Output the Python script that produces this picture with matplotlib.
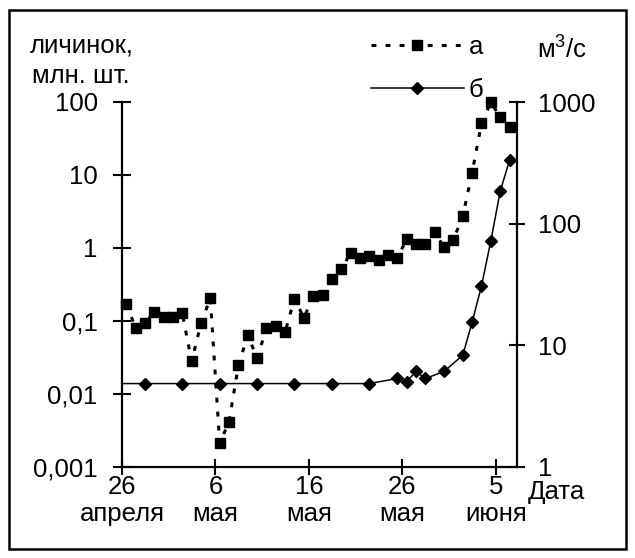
import numpy as np
import matplotlib
matplotlib.use("Agg")
import matplotlib.pyplot as plt
from matplotlib.ticker import NullLocator, FixedLocator, FixedFormatter
from matplotlib.patches import Rectangle

plt.rcParams['font.family'] = ['Liberation Sans', 'DejaVu Sans']
plt.rcParams['mathtext.fontset'] = 'custom'
plt.rcParams['mathtext.rm'] = 'Liberation Sans'
plt.rcParams['mathtext.it'] = 'Liberation Sans'

# ---- data ----
# days counted from 26 April
days_a = np.arange(0, 42)
larvae = [0.171, 0.081, 0.093, 0.133, 0.112, 0.112, 0.127, 0.028, 0.093, 0.205,
          0.0021, 0.0042, 0.0246, 0.064, 0.031, 0.079, 0.085, 0.071, 0.203, 0.11,
          0.217, 0.226, 0.375, 0.514, 0.846, 0.72, 0.784, 0.684, 0.801, 0.72,
          1.33, 1.13, 1.13, 1.64, 1.02, 1.3, 2.73, 10.8, 50.8, 98.8,
          62.8, 45.7]

days_b = np.array([-2, 2, 6, 10, 14, 18, 22, 26, 29, 30, 31, 32, 34, 36, 37, 38, 39, 40, 41])
discharge = [4.85, 4.85, 4.85, 4.85, 4.85, 4.85, 4.85, 4.85, 5.34, 5.04, 6.1, 5.34,
             6.1, 8.3, 15.5, 30.7, 72, 184, 331]

x_ticks = [0, 10, 20, 30, 40]
x_labels = ["26\nапреля", "6\nмая", "16\nмая", "26\nмая", "5\nиюня"]
left_ticks = [0.001, 0.01, 0.1, 1, 10, 100]
left_labels = ["0,001", "0,01", "0,1", "1", "10", "100"]
right_ticks = [1, 10, 100, 1000]
right_labels = ["1", "10", "100", "1000"]

OFF = 0.45  # points sit at mid-day
FS = 18.5
W, H = 635, 558

fig = plt.figure(figsize=(W / 100, H / 100), dpi=100)
fig.patch.set_facecolor('white')
ax = fig.add_axes([122 / W, 1 - 467 / H, (517 - 122) / W, (467 - 102) / H])
ax2 = ax.twinx()

ax.set_xlim(0, 42.25)
ax.set_yscale('log')
ax.set_ylim(0.001, 100)
ax2.set_yscale('log')
ax2.set_ylim(1, 1000)

la, = ax.plot(days_a + OFF, larvae, color='black', lw=2.2, linestyle=(0, (1.6, 3.0)),
              marker='s', ms=7.5, mfc='black', mec='black', clip_on=False, zorder=3)
lb, = ax2.plot(days_b + OFF, discharge, color='black', lw=1.1, linestyle='-',
               marker='D', ms=6.6, mfc='black', mec='black', zorder=3)
ax2.set_xlim(0, 42.25)

for s in ['top', 'right']:
    ax.spines[s].set_visible(False)
for s in ['top', 'left', 'bottom']:
    ax2.spines[s].set_visible(False)
for s in ['left', 'bottom']:
    ax.spines[s].set_linewidth(1.6)
ax2.spines['right'].set_linewidth(1.6)

ax.xaxis.set_major_locator(FixedLocator(x_ticks))
ax.xaxis.set_major_formatter(FixedFormatter(x_labels))
ax.xaxis.set_minor_locator(NullLocator())
ax.yaxis.set_major_locator(FixedLocator(left_ticks))
ax.yaxis.set_major_formatter(FixedFormatter(left_labels))
ax.yaxis.set_minor_locator(NullLocator())
ax2.yaxis.set_major_locator(FixedLocator(right_ticks))
ax2.yaxis.set_major_formatter(FixedFormatter(right_labels))
ax2.yaxis.set_minor_locator(NullLocator())

ax.tick_params(axis='x', direction='inout', length=11, width=1.5, pad=0.5, labelsize=FS)
ax.tick_params(axis='y', direction='inout', length=13, width=1.5, pad=11, labelsize=FS)
ax2.tick_params(axis='y', direction='inout', length=11.5, width=1.5, pad=9.5, labelsize=FS)
for t in ax.get_xticklabels():
    t.set_linespacing(1.15)

# axis captions
fig.text(30 / W, 1 - 45 / H, "личинок,", fontsize=FS, ha='left', va='center')
fig.text(32 / W, 1 - 76 / H, "млн. шт.", fontsize=FS, ha='left', va='center')
fig.text(537 / W, 1 - 50 / H, "м$^3$/с", fontsize=FS, ha='left', va='center')
fig.text(528 / W, 1 - 480 / H, "Дата", fontsize=FS, ha='left', va='top')

# legend
fig.legend([la, lb], ["а", "б"], loc='upper left', bbox_to_anchor=(371 / W, 1 - 35 / H),
           frameon=False, fontsize=FS, handlelength=3.6, handletextpad=0.2,
           numpoints=1, labelspacing=0.75, borderpad=0, borderaxespad=0)

# outer frame
fig.add_artist(Rectangle((9 / W, 9 / H), (626 - 9) / W, (549 - 10) / H,
                         transform=fig.transFigure, fill=False, lw=1.8, ec='black'))

fig.savefig("out.png", dpi=100, facecolor='white')
